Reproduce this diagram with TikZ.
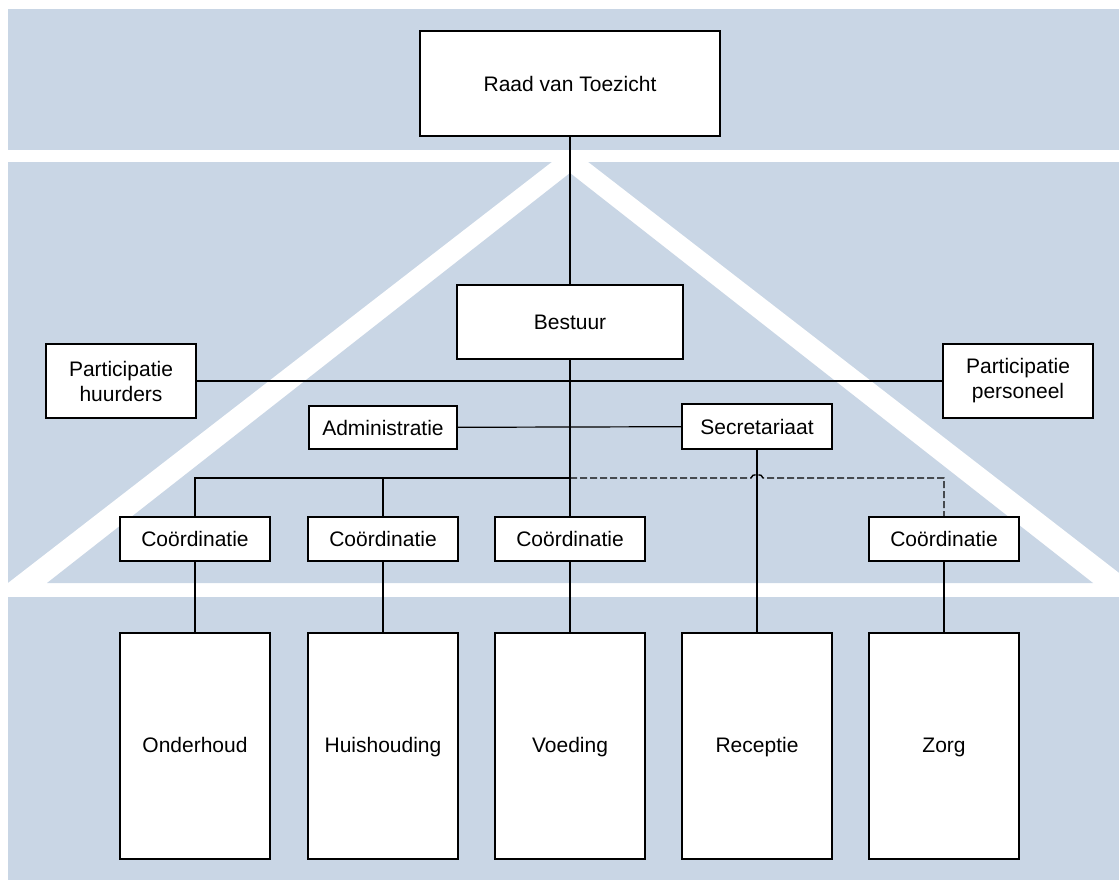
\documentclass[tikz,border=0pt]{standalone}
\usepackage{fontspec}
\setmainfont{Liberation Sans}
\definecolor{band}{RGB}{201,214,229}

\begin{document}
\begin{tikzpicture}[x=0.5pt, y=-0.5pt,
    box/.style={draw, line width=0.65pt, fill=white, align=center, inner sep=0pt,
        font=\fontsize{10.5}{12.5}\selectfont},
    coord/.style={box, minimum width=75pt, minimum height=22pt},
    unit/.style={box, minimum width=75pt, minimum height=113pt, text height=1.6ex, text depth=0.4ex},
    link/.style={line width=0.6pt}]

    \useasboundingbox (0,0) rectangle (1119,889);

    \fill[band] (8,9) rectangle (1119,150);
    \fill[band] (8,597) rectangle (1119,880);
    \begin{scope}
        \clip (8,162) rectangle (1119,583);
        \fill[band] (8,162) rectangle (1119,583);
        \fill[white] (8,583) -- (570,148) -- (1132,583) -- cycle;
        \fill[band] (47,583) -- (570,173) -- (1093,583) -- cycle;
    \end{scope}

    \node[box, minimum width=150pt, minimum height=52.5pt] (raad) at (570,83.5) {Raad van Toezicht};
    \node[box, minimum width=113pt, minimum height=37pt] (bestuur) at (570,322) {Bestuur};
    \node[box, minimum width=75pt, minimum height=37pt] (huurders) at (121,381) {Participatie\\huurders};
    \node[box, minimum width=75pt, minimum height=37pt] (personeel) at (1018,381) {Participatie\\personeel};
    \node[box, minimum width=74pt, minimum height=21.5pt] (admin) at (383,427.5) {Administratie};
    \node[box, minimum width=75pt, minimum height=22.5pt] (secr) at (757,426.5) {Secretariaat};

    \node[coord] (c1) at (195,539) {Coördinatie};
    \node[coord] (c2) at (383,539) {Coördinatie};
    \node[coord] (c3) at (570,539) {Coördinatie};
    \node[coord] (c4) at (944,539) {Coördinatie};

    \node[unit] (onderhoud) at (195,746) {Onderhoud};
    \node[unit] (huishouding) at (383,746) {Huishouding};
    \node[unit] (voeding) at (570,746) {Voeding};
    \node[unit] (receptie) at (757,746) {Receptie};
    \node[unit] (zorg) at (944,746) {Zorg};

    \coordinate (bus) at (570,478);
    \coordinate (hop) at (secr.south |- bus);

    \draw[link] (raad) -- (bestuur);
    \draw[link] (bestuur) -- (c3);
    \draw[link] (huurders) -- (personeel);
    \draw[link] (admin) -- (secr);
    \draw[link] (c1.north) |- (bus);
    \draw[link] (c2.north) -- (c2.north |- bus);
    \draw[link] (secr) -- (receptie);
    \draw[link, line width=0.7pt, dash pattern=on 3.5pt off 1.5pt] (bus) -- ([xshift=-3pt]hop)
        to[bend left=90] ([xshift=3pt]hop) -- (c4.north |- bus) -- (c4.north);

    \draw[link] (c1) -- (onderhoud);
    \draw[link] (c2) -- (huishouding);
    \draw[link] (c3) -- (voeding);
    \draw[link] (c4) -- (zorg);
\end{tikzpicture}
\end{document}
